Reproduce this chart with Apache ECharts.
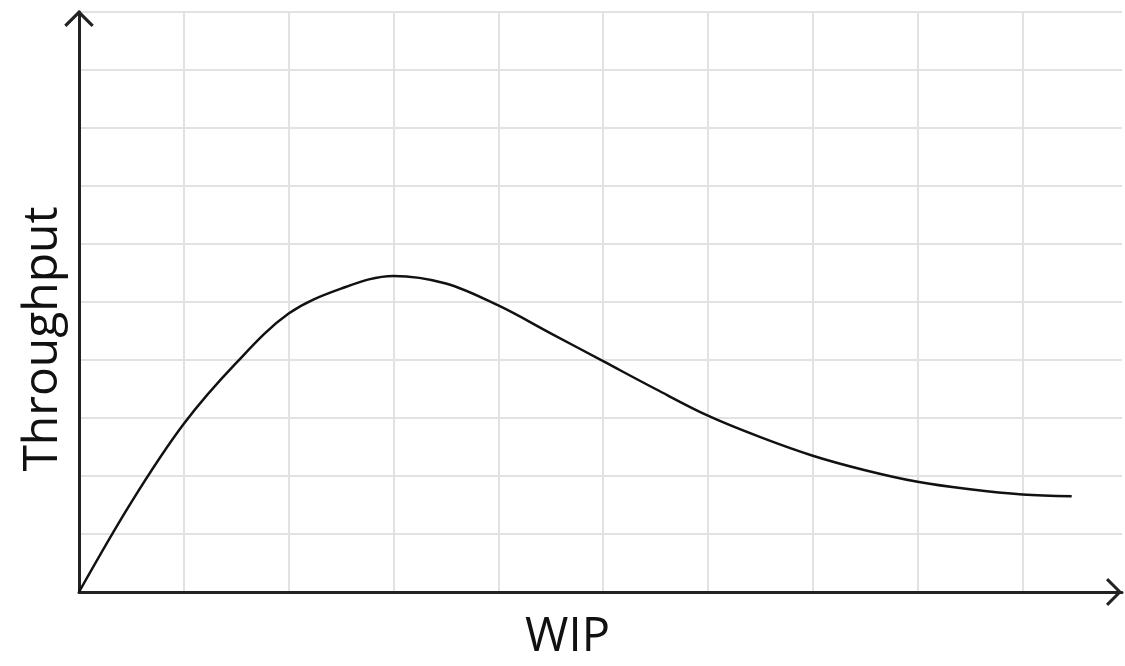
<!DOCTYPE html>
<html>
<head>
<meta charset="utf-8">
<script src="https://cdn.jsdelivr.net/npm/echarts@6/dist/echarts.min.js"></script>
<style>
  html, body { margin: 0; padding: 0; background: #fff; }
  #chart { width: 1125px; height: 666px; }
</style>
</head>
<body>
<div id="chart"></div>
<script>
// WIP (x) values where the curve was read
const wipValues = [0, 0.5, 1, 1.5, 2, 2.5, 3, 3.5, 4, 4.5, 5, 5.5, 6, 6.5, 7, 7.5, 8, 8.5, 9, 9.47];
// Throughput (y) read at the same places
const throughputValues = [0, 1.55, 2.9, 3.95, 4.8, 5.23, 5.45, 5.32, 4.94, 4.46, 3.98, 3.5, 3.04, 2.67, 2.35, 2.1, 1.9, 1.77, 1.68, 1.65];

// open chevron pointing up, used as the axis arrow head
const chevron = 'path://M0,0 L10,10 L8.5,11.5 L0,3 L-8.5,11.5 L-10,10 Z';

const chart = echarts.init(document.getElementById('chart'));

chart.setOption({
  animation: false,
  grid: {
    left: 79,
    top: 12,
    width: 1043,
    height: 584
  },
  xAxis: {
    type: 'value',
    min: 0,
    max: 9.95,
    interval: 1,
    name: 'WIP',
    nameLocation: 'middle',
    nameGap: 22,
    nameTextStyle: {
      fontFamily: 'Open Sans',
      fontSize: 47,
      color: '#111',
      padding: [0, 66, 0, 0]
    },
    axisLine: {
      lineStyle: { color: '#222', width: 3 },
      symbol: ['none', chevron],
      symbolSize: [32, 16],
      symbolOffset: [0, -8]
    },
    axisTick: { show: false },
    axisLabel: { show: false },
    splitLine: {
      showMaxLine: false,
      lineStyle: { color: '#e2e2e2', width: 2 }
    }
  },
  yAxis: {
    type: 'value',
    min: 0,
    max: 10,
    interval: 1,
    name: 'Throughput',
    nameLocation: 'middle',
    nameGap: 12,
    nameTextStyle: {
      fontFamily: 'Open Sans',
      fontSize: 48,
      color: '#111',
      padding: [0, 74, 0, 0]
    },
    axisLine: {
      lineStyle: { color: '#222', width: 3 },
      symbol: ['none', chevron],
      symbolSize: [32, 17],
      symbolOffset: [0, -6.5]
    },
    axisTick: { show: false },
    axisLabel: { show: false },
    splitLine: {
      lineStyle: { color: '#e2e2e2', width: 2 }
    }
  },
  series: [
    {
      type: 'line',
      data: wipValues.map((x, i) => [x, throughputValues[i]]),
      smooth: 0.35,
      showSymbol: false,
      lineStyle: { color: '#111', width: 2.5 }
    }
  ]
});
</script>
</body>
</html>
